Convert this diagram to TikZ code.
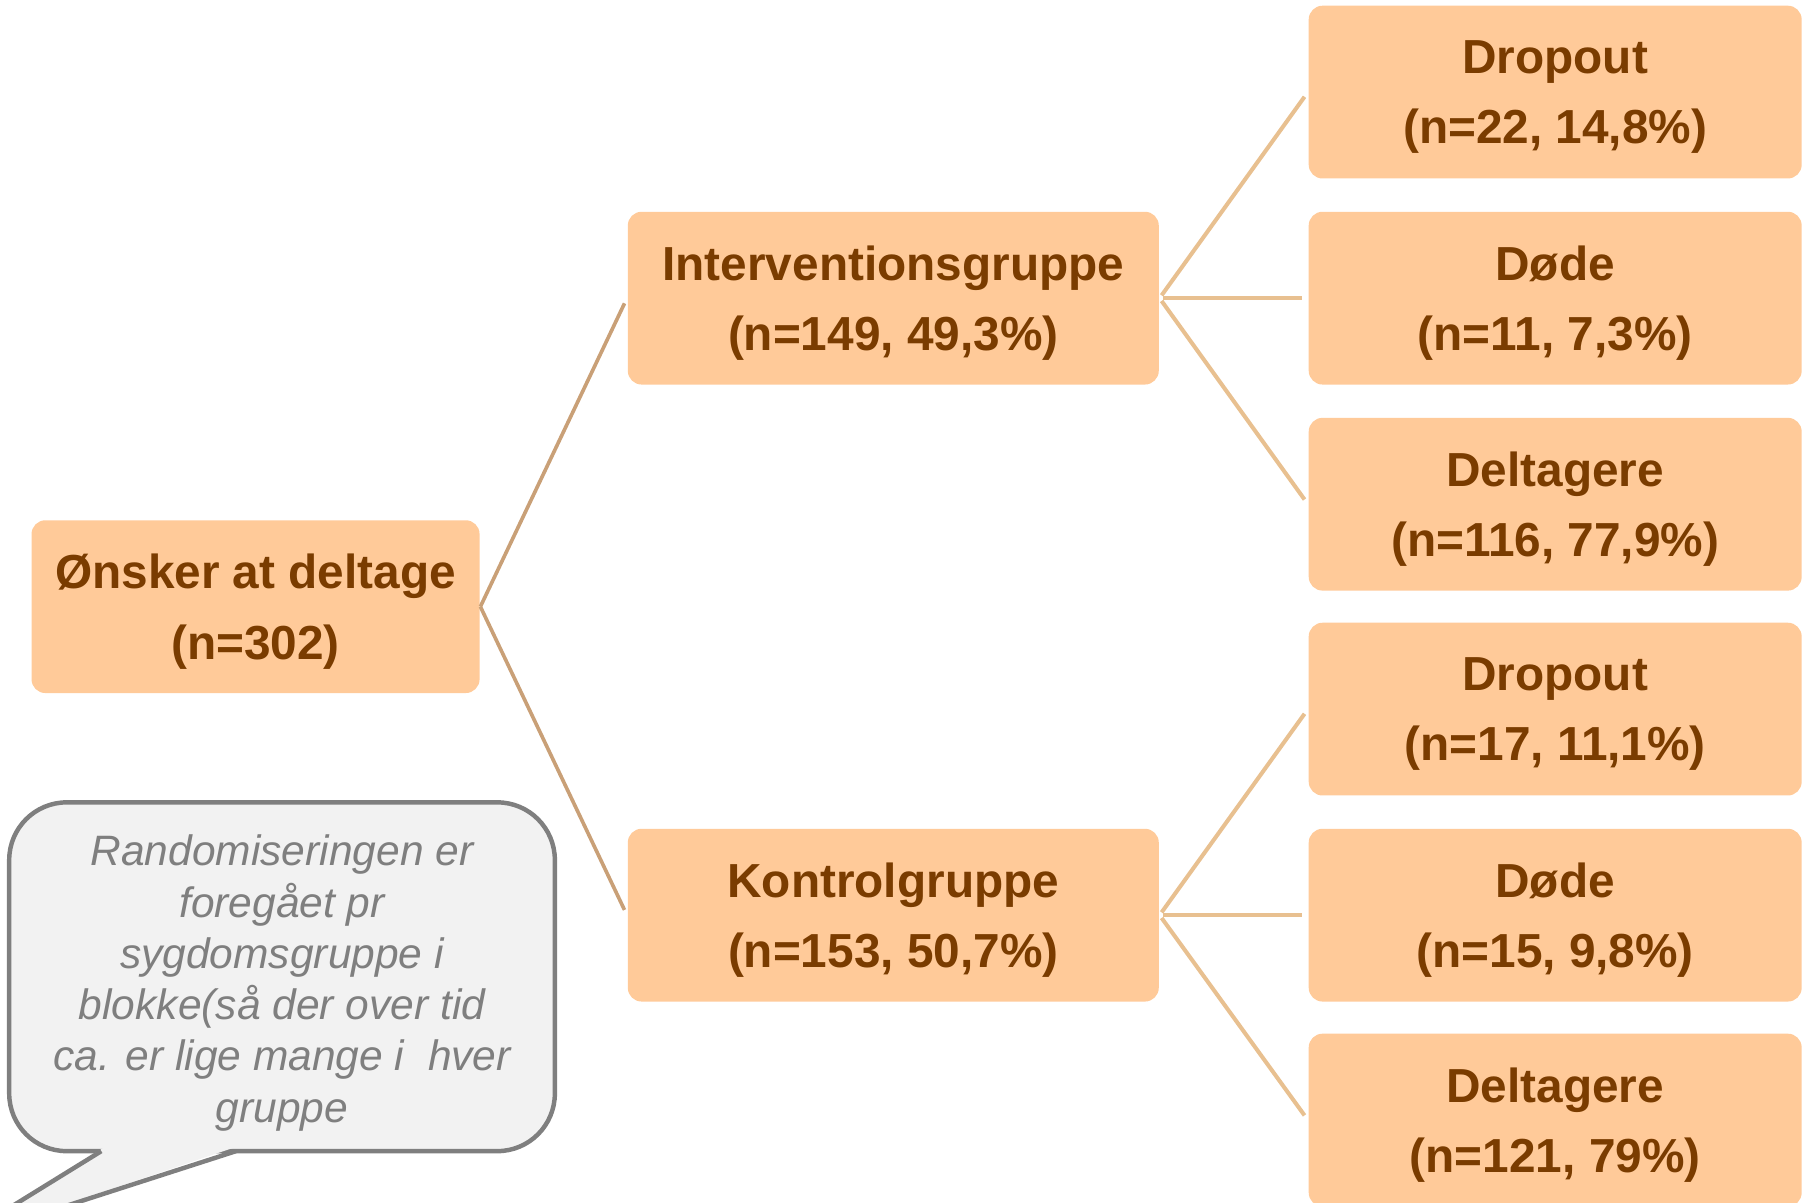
\documentclass[tikz,border=0pt]{standalone}
\usepackage{fontspec}
\setmainfont{Liberation Sans}
\usetikzlibrary{positioning}

\definecolor{boxfill}{HTML}{FFCA99}
\definecolor{boxtext}{HTML}{7A3C00}
\definecolor{rootline}{HTML}{C9A077}
\definecolor{leafline}{HTML}{E8C090}
\definecolor{notefill}{HTML}{F2F2F2}
\definecolor{notegray}{HTML}{7F7F7F}

\tikzset{
  box/.style={fill=boxfill, rounded corners=0.12cm, text=boxtext, align=center,
    font=\bfseries\fontsize{11.8}{17.4}\selectfont, minimum height=1.5cm,
    text depth=0pt, inner sep=0pt},
  rootlink/.style={draw=rootline, line width=0.9pt, shorten >=0.05cm},
  leaflink/.style={draw=leafline, line width=1pt, shorten <=0.03cm, shorten >=0.05cm},
  note/.style={draw=notegray, fill=notefill, line width=1.1pt, line join=round}
}

\begin{document}
\begin{tikzpicture}[x=0.01cm, y=-0.01cm]
  \useasboundingbox (0,0) rectangle (1568,1045);
  \clip (0,0) rectangle (1568,1045);

  % main boxes
  \node[box, minimum width=3.89cm] (onsker) at (222,527) {Ønsker at deltage\\(n=302)};
  \node[box, minimum width=4.61cm] (interv) at (776,259) {Interventionsgruppe\\(n=149, 49,3\%)};
  \node[box, minimum width=4.61cm] (kontrol) at (776,795) {Kontrolgruppe\\(n=153, 50,7\%)};

  % outcome boxes
  \foreach \name/\ypos/\title/\count in {idrop/80/Dropout/{(n=22, 14,8\%)},
      idod/259/Døde/{(n=11, 7,3\%)}, idelt/438/Deltagere/{(n=116, 77,9\%)},
      kdrop/616/Dropout/{(n=17, 11,1\%)}, kdod/795/Døde/{(n=15, 9,8\%)},
      kdelt/973/Deltagere/{(n=121, 79\%)}}
    \node[box, minimum width=4.28cm] (\name) at (1351,\ypos) {\title\\\count};

  % links
  \draw[rootlink] (onsker.east) -- (interv.west);
  \draw[rootlink] (onsker.east) -- (kontrol.west);
  \foreach \leaf in {idrop, idod, idelt}
    \draw[leaflink] (interv.east) -- (\leaf.west);
  \foreach \leaf in {kdrop, kdod, kdelt}
    \draw[leaflink] (kontrol.east) -- (\leaf.west);

  % speech bubble
  \draw[note, rounded corners=0.5cm] (8,697) rectangle (482,1000);
  \fill[notefill] (90,997) -- (-40,1079) -- (203,997) -- cycle;
  \draw[note, fill=none] (88,1000) -- (-40,1079) -- (205,1000);
  \node[text=notegray, align=center, font=\itshape\fontsize{10.5}{12.66}\selectfont]
    (remark) at (245,854) {Randomiseringen er\\foregået pr\\sygdomsgruppe i\\blokke(så der over tid\\ca. er lige mange i\ \ hver\\gruppe};
\end{tikzpicture}
\end{document}
